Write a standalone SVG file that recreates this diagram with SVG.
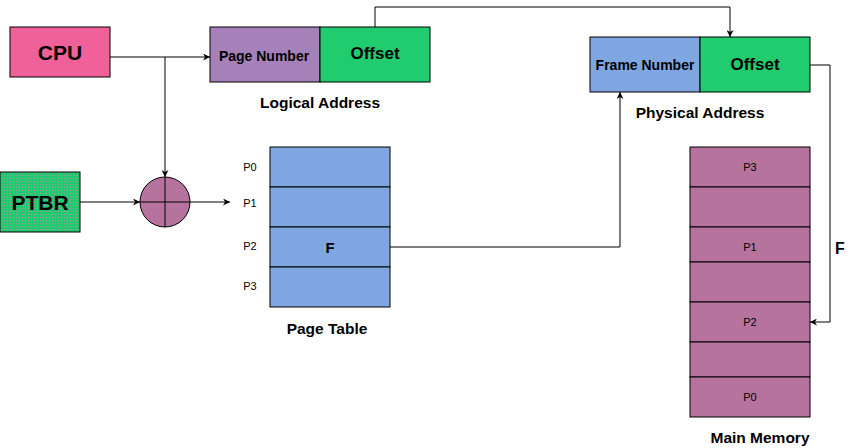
<svg xmlns="http://www.w3.org/2000/svg" width="856" height="448" viewBox="0 0 856 448">
<style>
text{font-family:"Liberation Sans",Arial,sans-serif;text-anchor:middle;dominant-baseline:central;fill:#000}
.b{font-weight:bold}
.box{stroke:#000;stroke-width:1}
.ln{fill:none;stroke:#000;stroke-width:1}
.s{font-size:11px}
.lbl{font-weight:bold;font-size:15.5px}
</style>
<defs>
<marker id="ah" viewBox="0 0 10 10" refX="10" refY="5" markerWidth="7" markerHeight="7" orient="auto" markerUnits="userSpaceOnUse"><path d="M0,0 L10,5 L0,10 L3,5 z" fill="#000"/></marker>
<pattern id="dots" width="3" height="3" patternUnits="userSpaceOnUse"><rect width="3" height="3" fill="#23c96e"/><rect x="1" y="1" width="1" height="1" fill="#b98fb0"/></pattern>
</defs>
<g id="cpu"><rect class="box" x="10" y="27" width="100" height="50" fill="#F0619A"/><text class="b" x="60" y="52" font-size="21">CPU</text></g>
<g id="logical"><rect class="box" x="210" y="27" width="110" height="55" fill="#A680B8"/><text x="264" y="56" font-size="14" class="b">Page Number</text>
<rect class="box" x="320" y="27" width="110" height="55" fill="#21CC6F"/><text class="b" x="375" y="53" font-size="17">Offset</text>
<text class="lbl" x="320" y="102">Logical Address</text></g>
<g id="physical"><rect class="box" x="590" y="37" width="110" height="55" fill="#7EA6E0"/><text x="645" y="65" font-size="14" class="b">Frame Number</text>
<rect class="box" x="700" y="37" width="110" height="55" fill="#21CC6F"/><text class="b" x="755" y="64" font-size="17">Offset</text>
<text class="lbl" x="700" y="112">Physical Address</text></g>
<g id="ptbr"><rect class="box" x="0" y="172" width="80" height="60" fill="url(#dots)"/><text class="b" x="40" y="202" font-size="21">PTBR</text></g>
<g id="adder"><circle class="box" cx="165" cy="202" r="25" fill="#B5739D"/><line class="ln" x1="140" y1="202" x2="190" y2="202"/><line class="ln" x1="165" y1="177" x2="165" y2="227"/></g>
<g id="pagetable">
<rect class="box" x="270" y="147" width="120" height="40" fill="#7EA6E0"/>
<rect class="box" x="270" y="187" width="120" height="40" fill="#7EA6E0"/>
<rect class="box" x="270" y="227" width="120" height="40" fill="#7EA6E0"/>
<rect class="box" x="270" y="267" width="120" height="40" fill="#7EA6E0"/>
<text class="b" x="330" y="247" font-size="15">F</text>
<text class="s" x="250" y="167">P0</text><text class="s" x="250" y="203">P1</text><text class="s" x="250" y="246">P2</text><text class="s" x="250" y="286">P3</text>
<text class="lbl" x="327" y="328">Page Table</text></g>
<g id="memory">
<rect class="box" x="690" y="147" width="120" height="40" fill="#B5739D"/>
<rect class="box" x="690" y="187" width="120" height="40" fill="#B5739D"/>
<rect class="box" x="690" y="227" width="120" height="35" fill="#B5739D"/>
<rect class="box" x="690" y="262" width="120" height="40" fill="#B5739D"/>
<rect class="box" x="690" y="302" width="120" height="40" fill="#B5739D"/>
<rect class="box" x="690" y="342" width="120" height="35" fill="#B5739D"/>
<rect class="box" x="690" y="377" width="120" height="40" fill="#B5739D"/>
<text class="s" x="750" y="167">P3</text><text class="s" x="750" y="247">P1</text><text class="s" x="750" y="322">P2</text><text class="s" x="750" y="397">P0</text>
<text class="lbl" x="760" y="437">Main Memory</text></g>
<g id="connectors">
<path class="ln" d="M110,57 H210" marker-end="url(#ah)"/>
<path class="ln" d="M165,57 V177" marker-end="url(#ah)"/>
<path class="ln" d="M80,202 H140" marker-end="url(#ah)"/>
<path class="ln" d="M190,202 H230" marker-end="url(#ah)"/>
<path class="ln" d="M375,27 V7 H730 V37" marker-end="url(#ah)"/>
<path class="ln" d="M390,247 H620 V92" marker-end="url(#ah)"/>
<path class="ln" d="M810,65 H830 V322 H810" marker-end="url(#ah)"/>
<text class="b" x="840" y="248" font-size="16">F</text>
</g>
</svg>
